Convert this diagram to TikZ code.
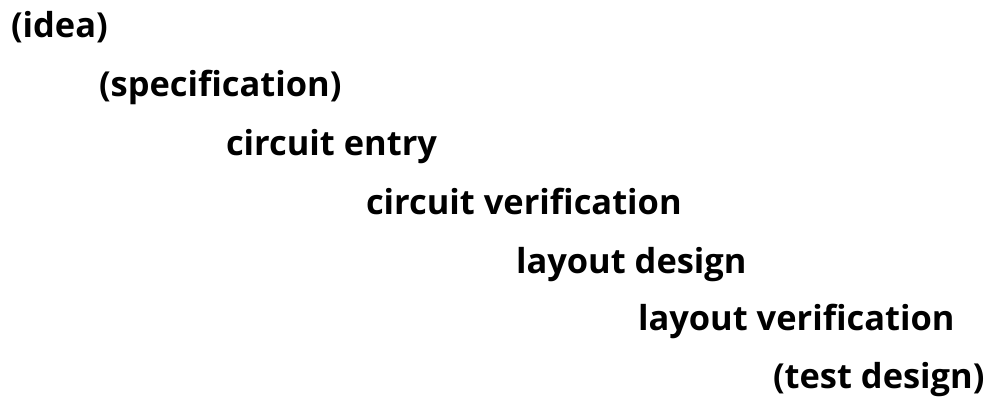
\documentclass[tikz,border=0pt]{standalone}
\usepackage{fontspec}
\setmainfont{Open Sans}
\usepackage{tikz}
\usetikzlibrary{positioning}
\tikzset{
  stage/.style={anchor=base west, inner sep=0pt, outer sep=0pt,
    font=\fontsize{19.6pt}{24pt}\selectfont\bfseries, text=black}
}

\begin{document}
\begin{tikzpicture}[x=0.02cm, y=-0.02cm]
  \useasboundingbox (0,0) rectangle (991,400);
  \node[stage] (idea)    at (11,37)   {(idea)};
  \node[stage] (spec)    at (99,96)   {(specification)};
  \node[stage] (entry)   at (226,155) {circuit entry};
  \node[stage] (cverif)  at (366,214) {circuit verification};
  \node[stage] (ldesign) at (516,273) {layout design};
  \node[stage] (lverif)  at (638,330) {layout verification};
  \node[stage] (tdesign) at (773,388) {(test design)};
\end{tikzpicture}
\end{document}
